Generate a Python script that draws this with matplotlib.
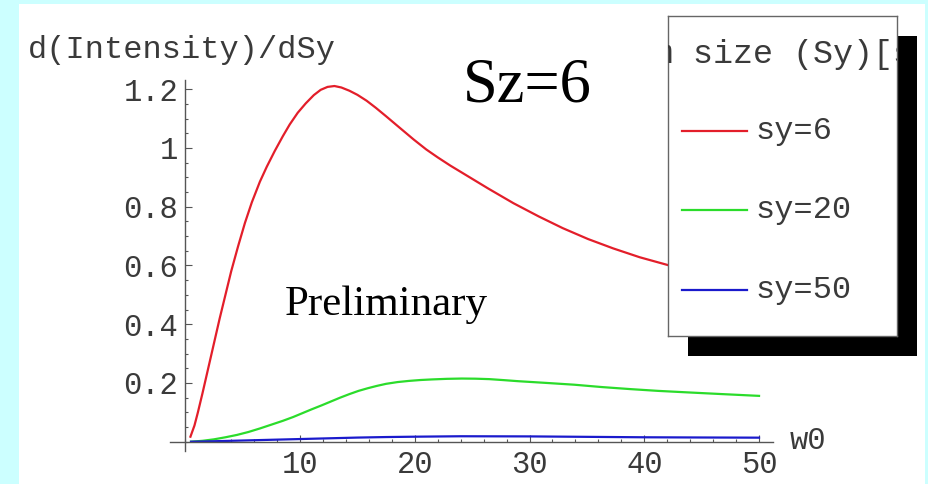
import matplotlib
matplotlib.use('Agg')
import matplotlib.pyplot as plt
from matplotlib.patches import Rectangle
from matplotlib.ticker import MultipleLocator

# valores
x_sy6 = [0.45, 0.8, 1.1, 1.5, 2.0, 2.5, 3.0, 3.5, 4.0, 4.6, 5.2, 5.8, 6.5, 7.1, 7.8,
         8.5, 9.1, 9.8, 10.5, 11.2, 11.8, 12.4, 13.0, 13.6, 14.3, 15.0, 15.8, 16.6,
         17.5, 18.5, 19.9, 21.0, 22.0, 23.1, 24.2, 25.3, 26.4, 27.5, 28.6, 30.8, 32.9,
         35.1, 37.3, 39.6, 42.0, 44.0, 46.0, 48.0, 50.0]
y_sy6 = [0.017, 0.055, 0.10, 0.165, 0.25, 0.335, 0.42, 0.50, 0.58, 0.665, 0.745, 0.815,
         0.885, 0.936, 0.99, 1.04, 1.08, 1.12, 1.152, 1.18, 1.198, 1.208, 1.211, 1.206,
         1.195, 1.181, 1.161, 1.137, 1.108, 1.075, 1.029, 0.995, 0.968, 0.940, 0.914,
         0.888, 0.862, 0.837, 0.812, 0.767, 0.727, 0.690, 0.658, 0.628, 0.602, 0.578,
         0.555, 0.534, 0.515]

x_sy20 = [0.5, 1.5, 2.5, 3.5, 4.5, 5.5, 6.5, 7.5, 8.5, 9.4, 10.2, 11.0, 11.9, 12.7,
          13.5, 14.3, 15.1, 15.9, 16.7, 17.5, 18.5, 19.5, 20.5, 21.5, 22.8, 24.1, 25.3,
          26.5, 27.8, 29.0, 31.5, 33.9, 36.3, 38.8, 41.2, 43.7, 46.8, 50.0]
y_sy20 = [0.0, 0.003, 0.008, 0.015, 0.023, 0.033, 0.045, 0.058, 0.071, 0.084, 0.097,
          0.110, 0.124, 0.137, 0.150, 0.162, 0.173, 0.182, 0.190, 0.197, 0.203, 0.207,
          0.210, 0.212, 0.214, 0.215, 0.2145, 0.213, 0.2095, 0.206, 0.200, 0.194, 0.186,
          0.179, 0.173, 0.168, 0.162, 0.156]

x_sy50 = [0.5, 2.5, 5, 7.5, 10, 12.5, 15, 17.5, 20, 24, 30, 35, 40, 45, 50]
y_sy50 = [0.0, 0.0015, 0.004, 0.0065, 0.009, 0.0115, 0.014, 0.0158, 0.017, 0.0185,
          0.018, 0.0165, 0.015, 0.0143, 0.0137]

series_labels = ['sy=6', 'sy=20', 'sy=50']
series_colors = ['#e31e2a', '#2bdc2b', '#1a1acc']

xticks = [10, 20, 30, 40, 50]
yticks = [0.2, 0.4, 0.6, 0.8, 1.0, 1.2]
ytick_labels = ['0.2', '0.4', '0.6', '0.8', '1', '1.2']

W, H = 929, 484
mono = 'Liberation Mono'
serif = 'Liberation Serif'
txt_color = '#3a3a3a'

fig = plt.figure(figsize=(W / 100, H / 100), dpi=100, facecolor='#ccffff')

# fundo branco (borda ciano em volta)
fig.patches.append(Rectangle((19 / W, 0), (925 - 19) / W, (H - 4) / H,
                             transform=fig.transFigure, facecolor='white',
                             edgecolor='none', zorder=-10))

# eixo principal: x=0 em 185.25 px, 11.475 px por unidade; y=0 em 441.7 px, 293.7 px por unidade
ax = fig.add_axes([169.9 / W, (H - 451) / H, (772.8 - 169.9) / W, (451 - 80) / H])
ax.set_facecolor('none')
ax.set_xlim(-1.34, 51.2)
ax.set_ylim(-0.0317, 1.2315)

lines = []
for xs, ys, lab, col in zip([x_sy6, x_sy20, x_sy50], [y_sy6, y_sy20, y_sy50],
                            series_labels, series_colors):
    ln, = ax.plot(xs, ys, color=col, lw=1.6, label=lab, solid_joinstyle='round')
    lines.append(ln)

for s in ['top', 'right']:
    ax.spines[s].set_visible(False)
ax.spines['left'].set_position(('data', 0))
ax.spines['bottom'].set_position(('data', 0))
for s in ['left', 'bottom']:
    ax.spines[s].set_color('#555555')
    ax.spines[s].set_linewidth(1.0)

ax.set_xticks(xticks)
ax.set_yticks(yticks, labels=ytick_labels)
ax.xaxis.set_minor_locator(MultipleLocator(2))
ax.yaxis.set_minor_locator(MultipleLocator(0.05))
ax.tick_params(which='both', direction='in', color='#555555', width=0.8)
ax.tick_params(which='major', length=5, labelsize=22, labelcolor=txt_color)
ax.tick_params(which='minor', length=2.5)
ax.tick_params(axis='x', pad=6)
ax.tick_params(axis='y', pad=5)
for lbl in ax.get_xticklabels() + ax.get_yticklabels():
    lbl.set_fontfamily(mono)

# rótulos dos eixos
fig.text(28 / W, (H - 58) / H, 'd(Intensity)/dSy', fontfamily=mono, fontsize=23,
         color=txt_color, ha='left', va='baseline')
fig.text(790 / W, (H - 449) / H, 'w0', fontfamily=mono, fontsize=22,
         color=txt_color, ha='left', va='baseline')

# anotações
fig.text(463 / W, (H - 102) / H, 'Sz=6', fontfamily=serif, fontsize=45,
         color='black', ha='left', va='baseline')
fig.text(285 / W, (H - 315) / H, 'Preliminary', fontfamily=serif, fontsize=31,
         color='black', ha='left', va='baseline')

# legenda com sombra preta
bx0, by0, bw, bh = 668, 16, 229, 320
sh = fig.add_axes([(bx0 + 20) / W, (H - by0 - bh - 20) / H, bw / W, bh / H])
sh.set_facecolor('black')
sh.set_xticks([])
sh.set_yticks([])
for s in sh.spines.values():
    s.set_visible(False)

lg = fig.add_axes([bx0 / W, (H - by0 - bh) / H, bw / W, bh / H])
lg.set_facecolor('white')
lg.set_xlim(bx0, bx0 + bw)
lg.set_ylim(by0 + bh, by0)
lg.set_xticks([])
lg.set_yticks([])
for s in lg.spines.values():
    s.set_color('#666666')
    s.set_linewidth(1.0)

# título cortado pela caixa, como no original
lg.text(593, 63, 'Beam size (Sy)[sigma]', fontfamily=mono, fontsize=24,
        color=txt_color, ha='left', va='baseline', clip_on=True)

entry_y = [131, 210, 290]
for ln, yy in zip(lines, entry_y):
    lg.plot([682, 747], [yy, yy], color=ln.get_color(), lw=1.6)
    lg.text(755, yy, ln.get_label(), fontfamily=mono, fontsize=23,
            color=txt_color, ha='left', va='center')

fig.savefig('out.png', dpi=100, facecolor=fig.get_facecolor())
